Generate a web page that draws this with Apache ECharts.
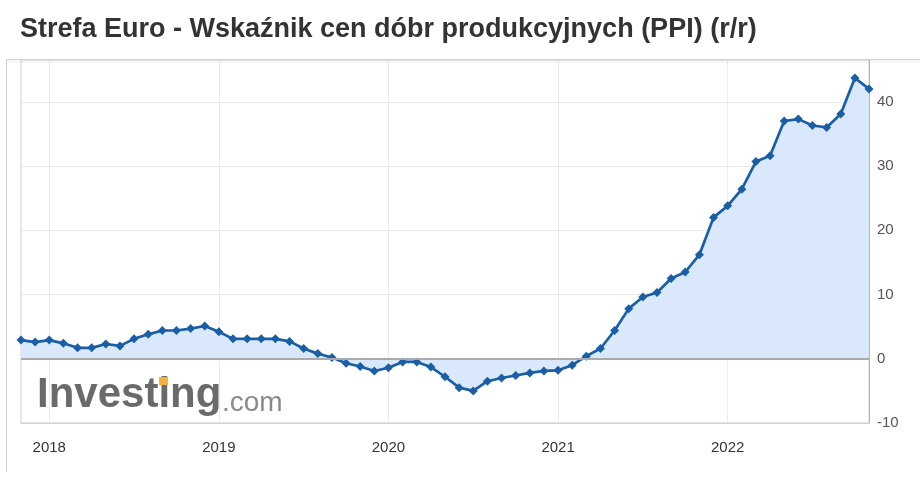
<!DOCTYPE html>
<html>
<head>
<meta charset="utf-8">
<script src="https://cdn.jsdelivr.net/npm/echarts@6/dist/echarts.min.js"></script>
<style>
html,body{margin:0;padding:0;background:#fff;}
#chart{width:920px;height:492px;}
</style>
</head>
<body>
<div id="chart"></div>
<script>
// Month labels (release months), Nov 2017 .. Nov 2022
const months = [];
(function(){
  let y = 2017, m = 11;
  for (let i = 0; i < 61; i++) {
    months.push(y + '-' + (m < 10 ? '0' + m : m));
    m++; if (m > 12) { m = 1; y++; }
  }
})();
const yearLabels = ['2018', '2019', '2020', '2021', '2022'];
const ppiValues = [
  2.9, 2.6,
  2.9, 2.4, 1.7, 1.7, 2.3, 2.0, 3.1, 3.8, 4.4, 4.4, 4.7, 5.1,
  4.2, 3.1, 3.1, 3.1, 3.1, 2.7, 1.6, 0.8, 0.2, -0.7, -1.2, -1.9,
  -1.4, -0.5, -0.5, -1.3, -2.8, -4.5, -5.0, -3.5, -3.0, -2.6, -2.2, -1.9,
  -1.8, -1.0, 0.4, 1.6, 4.4, 7.8, 9.6, 10.3, 12.5, 13.5, 16.2, 22.0,
  23.8, 26.4, 30.7, 31.6, 37.0, 37.3, 36.3, 36.0, 38.1, 43.7, 42.0
];
const yTicks = [-10, 0, 10, 20, 30, 40];
const titleText = 'Strefa Euro - Wskaźnik cen dóbr produkcyjnych (PPI) (r/r)';

const isJan = (idx) => months[idx] && months[idx].endsWith('-01');

const chart = echarts.init(document.getElementById('chart'), null, {renderer: 'canvas'});
chart.setOption({
  animation: false,
  backgroundColor: '#ffffff',
  title: {
    text: titleText,
    left: 15, top: 11,
    textStyle: {fontFamily: 'Liberation Sans, Arial, sans-serif', fontWeight: 'bold', fontSize: 27, color: '#333333'}
  },
  grid: {left: 21, right: 51, top: 60, bottom: 69, show: true, borderColor: '#cfcfcf', borderWidth: 1},
  xAxis: {
    type: 'category',
    data: months,
    boundaryGap: false,
    axisLine: {show: true, onZero: false, lineStyle: {color: '#d0d0d0'}},
    axisTick: {show: false},
    axisLabel: {
      interval: (idx) => isJan(idx),
      formatter: (v) => v.slice(0, 4),
      color: '#333333', fontSize: 15, fontFamily: 'Liberation Sans, Arial, sans-serif', margin: 17
    },
    splitLine: {show: true, interval: (idx) => isJan(idx), lineStyle: {color: '#ececec'}}
  },
  yAxis: {
    type: 'value',
    position: 'right',
    min: yTicks[0], max: 46.5, interval: 10,
    axisLine: {show: true, lineStyle: {color: '#b5b5b5'}},
    axisTick: {show: false},
    axisLabel: {
      showMaxLabel: false,
      formatter: (v) => (yTicks.indexOf(v) >= 0 ? String(v) : ''),
      color: '#555555', fontSize: 15, fontFamily: 'Liberation Sans, Arial, sans-serif', margin: 8
    },
    splitLine: {show: true, lineStyle: {color: '#e8e8e8'}}
  },
  series: [{
    type: 'line',
    data: ppiValues,
    symbol: 'diamond',
    symbolSize: 9,
    showAllSymbol: true,
    lineStyle: {color: '#1a5ea6', width: 2.7},
    itemStyle: {color: '#1a5ea6'},
    areaStyle: {color: '#d9e9fb', opacity: 1, origin: 0},
    markLine: {
      silent: true, symbol: 'none', label: {show: false},
      lineStyle: {color: '#aaaaaa', width: 2, type: 'solid'},
      data: [{yAxis: 0}]
    },
    z: 3
  }],
  graphic: [
    {type: 'line', shape: {x1: 6, y1: 59.5, x2: 920, y2: 59.5}, style: {stroke: '#d2d2d2', lineWidth: 1}, z: 10},
    {type: 'rect', shape: {x: 6, y: 60, width: 914, height: 3}, style: {fill: 'rgba(0,0,0,0.03)'}, z: 10},
    {type: 'line', shape: {x1: 6.5, y1: 60, x2: 6.5, y2: 472}, style: {stroke: '#d0d0d0', lineWidth: 1}, z: 10},
    {type: 'text', left: 37, top: 374, style: {text: 'Investing', font: 'bold 42px "Liberation Sans", Arial, sans-serif', fill: '#6a6a6a'}, z: 10},
    {type: 'text', left: 222, top: 389, style: {text: '.com', font: '28px "Liberation Sans", Arial, sans-serif', fill: '#8a8a8a'}, z: 10},
    {type: 'rect', shape: {x: 159, y: 377, width: 9, height: 8}, style: {fill: '#f6b13c'}, z: 11}
  ]
});
</script>
</body>
</html>
